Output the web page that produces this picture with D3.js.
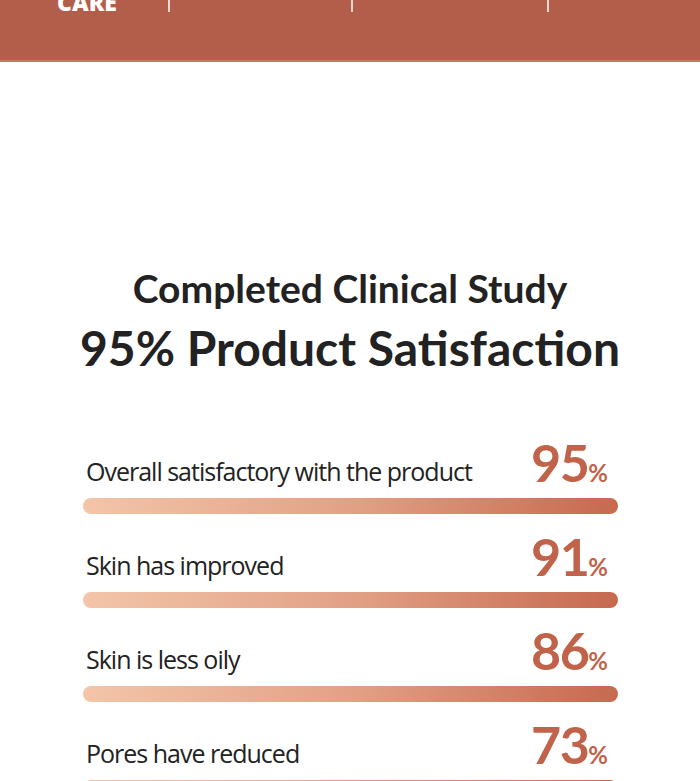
<!DOCTYPE html>
<html>
<head>
<meta charset="utf-8">
<script src="https://cdn.jsdelivr.net/npm/d3@7"></script>
<style>
  body { margin: 0; background: #fff; }
  svg { display: block; }
</style>
</head>
<body>
<script>
// data
const categories = [
  "Overall satisfactory with the product",
  "Skin has improved",
  "Skin is less oily",
  "Pores have reduced"
];
const values = [95, 91, 86, 73];
const titleLines = ["Completed Clinical Study", "95% Product Satisfaction"];
const navLabels = ["CARE"];

const width = 700, height = 781;

let svg = d3.select("body")
  .append("svg")
  .attr("width", width)
  .attr("height", height)

let defs = svg.append("defs")
let grad = defs.append("linearGradient")
  .attr("id", "barGrad")
  .attr("x1", "0%").attr("x2", "100%")
  .attr("y1", "0%").attr("y2", "0%")
grad.append("stop").attr("offset", "0%").attr("stop-color", "#f3c5a9")
grad.append("stop").attr("offset", "50%").attr("stop-color", "#e2a186")
grad.append("stop").attr("offset", "100%").attr("stop-color", "#c6694f")

// top banner (cut off at the top, as in the original)
svg.append("rect")
  .attr("x", 0).attr("y", 0)
  .attr("width", width).attr("height", 61)
  .attr("fill", "#b35e4a")
svg.append("rect")
  .attr("x", 0).attr("y", 60)
  .attr("width", width).attr("height", 2)
  .attr("fill", "#c27a69")

svg.append("text")
  .attr("x", 57).attr("y", 11)
  .attr("fill", "#fff")
  .style("font-family", "'Open Sans', sans-serif")
  .style("font-weight", 800)
  .style("font-size", "23px")
  .text(navLabels[0])

;[169, 352, 548].forEach(x => {
  svg.append("line")
    .attr("x1", x).attr("x2", x)
    .attr("y1", 0).attr("y2", 12)
    .attr("stroke", "#fff")
    .attr("stroke-width", 1.5)
})

// titles
svg.append("text")
  .attr("x", width / 2).attr("y", 303)
  .attr("text-anchor", "middle")
  .attr("fill", "#222")
  .style("font-family", "Lato, sans-serif")
  .style("font-weight", 700)
  .style("font-size", "39px")
  .text(titleLines[0])
svg.append("text")
  .attr("x", width / 2).attr("y", 366)
  .attr("text-anchor", "middle")
  .attr("fill", "#222")
  .style("font-family", "Lato, sans-serif")
  .style("font-weight", 700)
  .style("font-size", "48px")
  .text(titleLines[1])

// scales
let x = d3.scaleLinear()
  .domain([0, 100])
  .range([83, 618])

let y = d3.scaleBand()
  .domain(categories)
  .range([420, 420 + 94 * categories.length])

let rows = svg.append("g")
  .selectAll("g")
  .data(categories.map((c, i) => ({ name: c, value: values[i] })))
  .enter()
  .append("g")
  .attr("transform", d => `translate(0,${y(d.name)})`)

// bars: every one is drawn full length in the original
rows.append("rect")
  .attr("x", x(0))
  .attr("y", 78)
  .attr("width", x(100) - x(0))
  .attr("height", 16)
  .attr("rx", 8)
  .attr("fill", "url(#barGrad)")

rows.append("text")
  .attr("x", 86)
  .attr("y", 61)
  .attr("fill", "#222")
  .style("font-family", "'Open Sans', sans-serif")
  .style("font-size", "25px")
  .style("letter-spacing", "-1px")
  .text(d => d.name)

let pct = rows.append("text")
  .attr("x", 608)
  .attr("y", 62)
  .attr("text-anchor", "end")
  .attr("fill", "#c0634a")
  .style("font-family", "Lato, sans-serif")
  .style("font-weight", 700)
pct.append("tspan")
  .style("font-size", "52px")
  .style("letter-spacing", "-1.5px")
  .text(d => d.value)
pct.append("tspan")
  .style("font-size", "24px")
  .text("%")
</script>
</body>
</html>
